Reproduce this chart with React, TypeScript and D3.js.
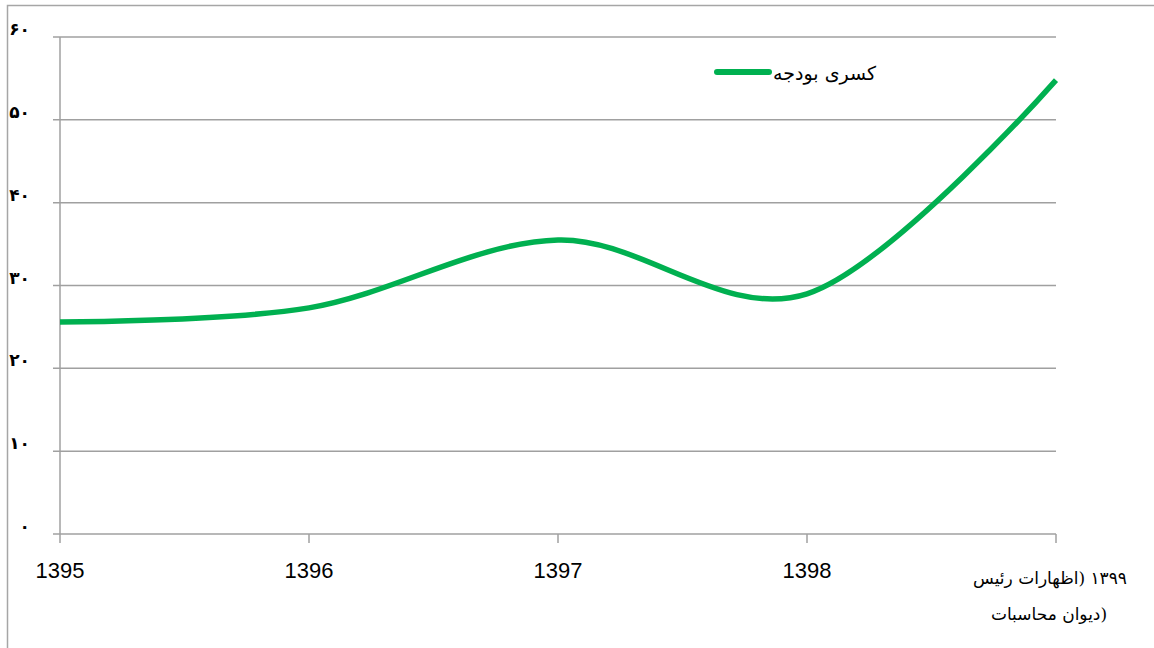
import React, { useEffect, useRef } from "react";
import * as d3 from "d3";

const years = ["1395", "1396", "1397", "1398", "1399"];
const deficit = [25.6, 27.3, 35.5, 29.0, 54.8];
const yTicks = [0, 10, 20, 30, 40, 50, 60];
const yTickLabels = ["۰", "۱۰", "۲۰", "۳۰", "۴۰", "۵۰", "۶۰"];
const lastLabel = ["۱۳۹۹ (اظهارات رئیس", "دیوان محاسبات)"];
const seriesName = "کسری بودجه";

const W = 1154;
const H = 648;
const margin = { top: 37, right: 98, bottom: 114, left: 60 };
const green = "#00B050";
const grid = "#a0a0a0";
const persianFont = "'DejaVu Serif', 'DejaVu Sans', serif";

const draw = (node: SVGSVGElement) => {
  const svg = d3.select(node);
  svg.selectAll("*").remove();

  const width = W - margin.left - margin.right;
  const height = H - margin.top - margin.bottom;

  const x = d3.scalePoint().domain(years).range([0, width]);
  const y = d3.scaleLinear().domain([0, 60]).range([height, 0]);

  // outer frame
  svg
    .append("rect")
    .attr("x", 7.5)
    .attr("y", 5.5)
    .attr("width", W + 20)
    .attr("height", H + 20)
    .attr("fill", "white")
    .attr("stroke", "#a6a6a6")
    .attr("stroke-width", 1.5);

  const g = svg
    .append("g")
    .attr("transform", `translate(${margin.left},${margin.top})`);

  // horizontal gridlines, ticks stick out to the left
  g.selectAll(".grid")
    .data(yTicks)
    .enter()
    .append("line")
    .attr("x1", -7)
    .attr("x2", width)
    .attr("y1", d => y(d))
    .attr("y2", d => y(d))
    .attr("stroke", grid)
    .attr("stroke-width", 1.5);

  g.append("line")
    .attr("x1", 0)
    .attr("x2", 0)
    .attr("y1", 0)
    .attr("y2", height + 9)
    .attr("stroke", grid)
    .attr("stroke-width", 1.5);

  g.selectAll(".xtick")
    .data(years.slice(1))
    .enter()
    .append("line")
    .attr("x1", d => x(d)!)
    .attr("x2", d => x(d)!)
    .attr("y1", height)
    .attr("y2", height + 9)
    .attr("stroke", grid)
    .attr("stroke-width", 1.5);

  g.selectAll(".ylabel")
    .data(yTicks)
    .enter()
    .append("text")
    .attr("x", -30)
    .attr("y", d => y(d) - 2)
    .attr("text-anchor", "end")
    .attr("font-family", "'DejaVu Sans', sans-serif")
    .attr("font-weight", "bold")
    .attr("font-size", 17)
    .attr("fill", "#000")
    .text((d, i) => yTickLabels[i]);

  g.selectAll(".xlabel")
    .data(years.slice(0, 4))
    .enter()
    .append("text")
    .attr("x", d => x(d)!)
    .attr("y", height + 44)
    .attr("text-anchor", "middle")
    .attr("font-family", "'Liberation Sans', Arial, sans-serif")
    .attr("font-size", 22)
    .attr("fill", "#000")
    .text(d => d);

  const last = x(years[4])!;
  g.append("text")
    .attr("x", last - 6)
    .attr("y", height + 50)
    .attr("text-anchor", "middle")
    .attr("direction", "rtl")
    .attr("font-family", persianFont)
    .attr("font-size", 17)
    .attr("fill", "#000")
    .text(lastLabel[0]);
  g.append("text")
    .attr("x", last - 7)
    .attr("y", height + 86)
    .attr("text-anchor", "middle")
    .attr("font-family", persianFont)
    .attr("font-size", 17)
    .attr("fill", "#000")
    .text(lastLabel[1]);

  const line = d3
    .line<number>()
    .x((d, i) => x(years[i])!)
    .y(d => y(d))
    .curve(d3.curveCardinal.tension(0));

  g.append("path")
    .datum(deficit)
    .attr("d", line)
    .attr("fill", "none")
    .attr("stroke", green)
    .attr("stroke-width", 5.5);

  // legend
  svg
    .append("line")
    .attr("x1", 717)
    .attr("x2", 769)
    .attr("y1", 72)
    .attr("y2", 72)
    .attr("stroke", green)
    .attr("stroke-width", 6)
    .attr("stroke-linecap", "round");
  svg
    .append("text")
    .attr("x", 876)
    .attr("y", 80)
    .attr("text-anchor", "end")
    .attr("font-family", persianFont)
    .attr("font-size", 19)
    .attr("fill", "#000")
    .text(seriesName);
};

const App = () => {
  const ref = useRef<SVGSVGElement>(null);
  useEffect(() => {
    if (ref.current) draw(ref.current);
  }, []);
  return (
    <svg
      ref={ref}
      width={W}
      height={H}
      style={{ position: "absolute", left: 0, top: 0, background: "white" }}
    />
  );
};

export default App;
